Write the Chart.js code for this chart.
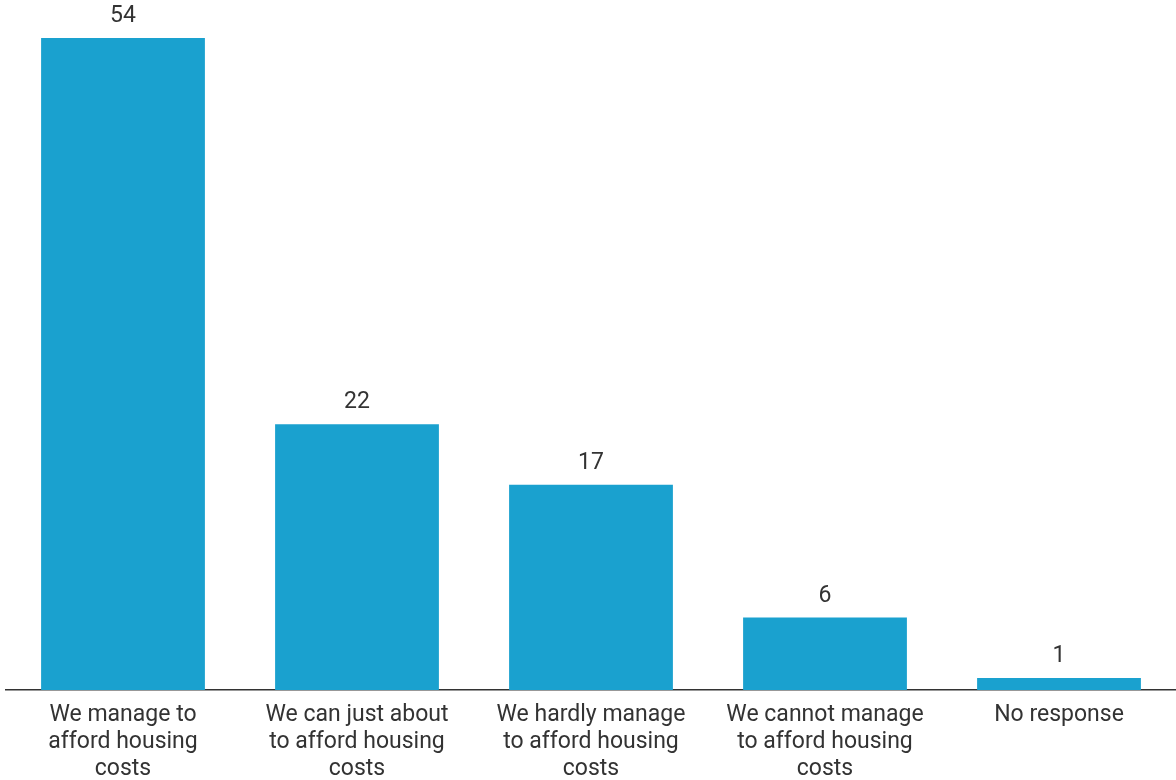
<!DOCTYPE html>
<html>
<head>
<meta charset="utf-8">
<script src="https://cdn.jsdelivr.net/npm/chart.js@4/dist/chart.umd.min.js"></script>
<style>
html,body{margin:0;padding:0;background:#fff;}
#wrap{width:1176px;height:780px;position:relative;}
</style>
</head>
<body>
<div id="wrap"><canvas id="c"></canvas></div>
<script>
const categories = [
  ["We manage to", "afford housing", "costs"],
  ["We can just about", "to afford housing", "costs"],
  ["We hardly manage", "to afford housing", "costs"],
  ["We cannot manage", "to afford housing", "costs"],
  ["No response"]
];
const values = [54, 22, 17, 6, 1];

const valueLabels = {
  id: 'valueLabels',
  afterDatasetsDraw(chart) {
    const ctx = chart.ctx;
    const meta = chart.getDatasetMeta(0);
    ctx.save();
    ctx.font = '23px Roboto';
    ctx.fillStyle = '#333333';
    ctx.textAlign = 'center';
    ctx.textBaseline = 'alphabetic';
    meta.data.forEach((bar, i) => {
      ctx.fillText(String(values[i]), bar.x, bar.y - 16);
    });
    ctx.restore();
  }
};

new Chart(document.getElementById('c'), {
  type: 'bar',
  data: {
    labels: categories,
    datasets: [{
      data: values,
      backgroundColor: '#1aa1cf',
      borderWidth: 0,
      barPercentage: 0.7,
      categoryPercentage: 1.0
    }]
  },
  options: {
    responsive: true,
    maintainAspectRatio: false,
    animation: false,
    layout: { padding: { top: 38, left: 6, right: 0, bottom: 0 } },
    plugins: { legend: { display: false }, tooltip: { enabled: false } },
    scales: {
      y: { display: false, min: 0, max: 54 },
      x: {
        grid: { display: false, drawTicks: false },
        border: { display: true, color: '#333333', width: 1.5 },
        ticks: {
          color: '#333333',
          font: { family: 'Roboto', size: 23, lineHeight: 1.174 },
          maxRotation: 0,
          minRotation: 0,
          autoSkip: false,
          padding: 12
        },
        afterFit(scale) { scale.height = 90; }
      }
    }
  },
  plugins: [valueLabels]
});
</script>
</body>
</html>
